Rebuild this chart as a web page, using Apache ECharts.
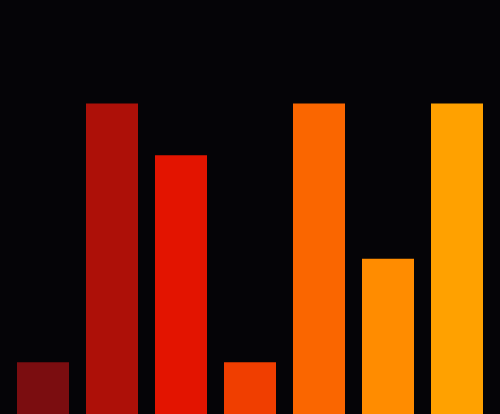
<!DOCTYPE html>
<html><head><meta charset="utf-8">
<script src="https://cdn.jsdelivr.net/npm/echarts@6/dist/echarts.min.js"></script>
<style>html,body{margin:0;padding:0;background:#050407;}#c{width:500px;height:414px;}</style>
</head><body><div id="c"></div>
<script>
const categories = ['A','B','C','D','E','F','G'];
const values = [1, 6, 5, 1, 6, 3, 6];
const colors = ['#7b0d10','#ad1008','#e31400','#f03e00','#fa6600','#ff8c00','#ffa100'];
const chart = echarts.init(document.getElementById('c'));
chart.setOption({
  backgroundColor: '#050407',
  animation: false,
  grid: {left: 8.5, right: 8.5, top: 0, bottom: 0, containLabel: false},
  xAxis: {type: 'category', data: categories, show: false},
  yAxis: {type: 'value', min: 0, max: 8, show: false},
  series: [{
    type: 'bar',
    barWidth: 52,
    data: values.map((v, i) => ({value: v, itemStyle: {color: colors[i]}}))
  }]
});
</script></body></html>
